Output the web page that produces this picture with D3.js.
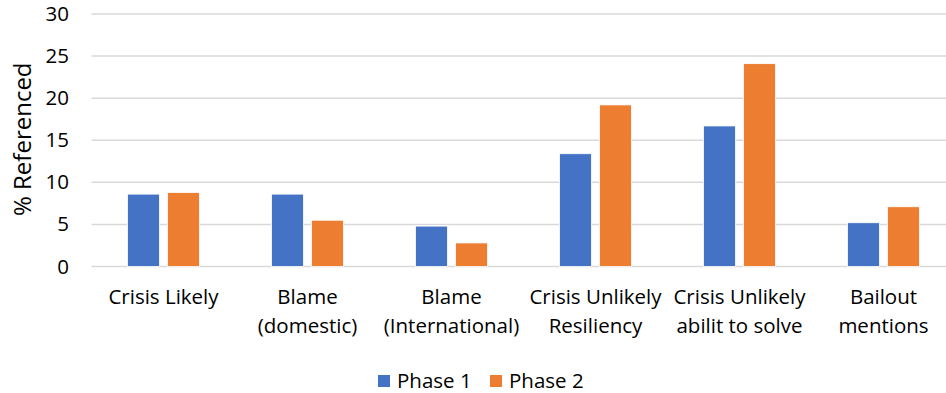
<!DOCTYPE html>
<html>
<head>
<meta charset="utf-8">
<script src="https://cdn.jsdelivr.net/npm/d3@7"></script>
<style>
  html, body { margin: 0; padding: 0; background: #fff; }
  svg { display: block; }
  text { font-family: "Open Sans", Lato, sans-serif; fill: #000; }
</style>
</head>
<body>
<svg id="chart" width="946" height="393"></svg>
<script>
// Share of coverage referencing each theme, by phase
const categories = [
  ["Crisis Likely"],
  ["Blame", "(domestic)"],
  ["Blame", "(International)"],
  ["Crisis Unlikely", "Resiliency"],
  ["Crisis Unlikely", "abilit to solve"],
  ["Bailout", "mentions"]
];
const seriesNames = ["Phase 1", "Phase 2"];
const phase1 = [8.6, 8.6, 4.8, 13.4, 16.7, 5.2];
const phase2 = [8.8, 5.5, 2.8, 19.2, 24.1, 7.1];
const yTicks = [0, 5, 10, 15, 20, 25, 30];
const colors = ["#4472C4", "#ED7D31"];

const svg = d3.select("#chart");
const W = 946;
const plot = { left: 91.5, right: 955.5, top: 14, bottom: 266.5 };

const catKeys = categories.map((c, i) => i);
const x = d3.scaleBand().domain(catKeys).range([plot.left, plot.right]).padding(0);
const xs = d3.scaleBand().domain(seriesNames).range([0, x.bandwidth()])
  .paddingInner(0.2).paddingOuter(0.9);
const y = d3.scaleLinear().domain([0, 30]).range([plot.bottom, plot.top]);

// Horizontal gridlines
svg.append("g")
  .selectAll("line")
  .data(yTicks)
  .join("line")
  .attr("x1", plot.left).attr("x2", W)
  .attr("y1", d => y(d)).attr("y2", d => y(d))
  .attr("stroke", "#d9d9d9").attr("stroke-width", 1.5);

// Y axis labels
const yAxis = d3.axisLeft(y).tickValues(yTicks).tickSize(0).tickPadding(0);
const gy = svg.append("g").attr("transform", "translate(69,0)").call(yAxis);
gy.select(".domain").remove();
gy.selectAll("text").style("font-size", "20.5px").style("font-family", "'Open Sans', sans-serif").attr("fill", "#000");

// Y axis title
svg.append("text")
  .attr("transform", `translate(31,${(plot.top + plot.bottom) / 2 - 1}) rotate(-90)`)
  .attr("text-anchor", "middle")
  .style("font-size", "24px")
  .text("% Referenced");

// Bars
const rows = catKeys.map(i => ({ i, vals: [phase1[i], phase2[i]] }));
const groups = svg.append("g").selectAll("g")
  .data(rows)
  .join("g")
  .attr("transform", d => `translate(${x(d.i)},0)`);
groups.selectAll("rect")
  .data(d => d.vals.map((v, k) => ({ v, k })))
  .join("rect")
  .attr("x", d => xs(seriesNames[d.k]))
  .attr("width", xs.bandwidth())
  .attr("y", d => y(d.v))
  .attr("height", d => y(0) - y(d.v))
  .attr("fill", d => colors[d.k])
  .attr("stroke", "#fff").attr("stroke-width", 0.8);

// Category labels
const labels = svg.append("g").selectAll("text")
  .data(rows)
  .join("text")
  .attr("x", d => x(d.i) + x.bandwidth() / 2)
  .attr("y", 304)
  .attr("text-anchor", "middle")
  .style("font-size", "20.5px");
labels.selectAll("tspan")
  .data(d => categories[d.i])
  .join("tspan")
  .attr("x", function () { return d3.select(this.parentNode).attr("x"); })
  .attr("dy", (d, j) => j === 0 ? 0 : 29)
  .text(d => d);

// Legend
const legend = svg.append("g").attr("transform", "translate(378,381)");
const legendX = [0, 112];
seriesNames.forEach((name, k) => {
  const g = legend.append("g").attr("transform", `translate(${legendX[k]},0)`);
  g.append("rect").attr("x", 0).attr("y", -6).attr("width", 12).attr("height", 12).attr("fill", colors[k]);
  g.append("text").attr("x", 19).attr("y", 7).style("font-size", "20.5px").text(name);
});
</script>
</body>
</html>
